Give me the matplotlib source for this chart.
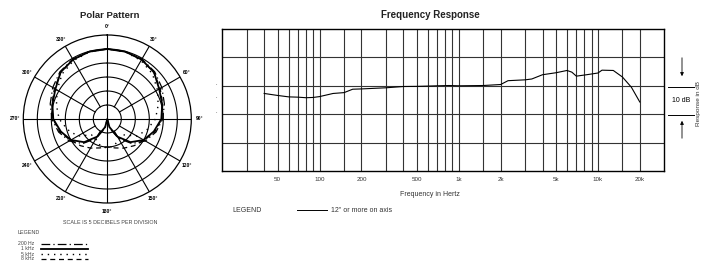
import matplotlib
matplotlib.use('Agg')
import matplotlib.pyplot as plt
import numpy as np
from matplotlib.lines import Line2D

plt.rcParams['font.family'] = ['Liberation Sans', 'DejaVu Sans']

# polar pattern, dB relative to on-axis, read at 0..180 deg (mirrored for the other side)
polar_angles = [0, 15, 30, 45, 60, 75, 90, 105, 120, 135, 150, 165, 180]
pol_200hz = [0, -0.1, -0.3, -1.1, -2.5, -3.9, -5.2, -7.0, -9.3, -12.6, -17.0, -21.5, -25.0]
pol_1khz = [0, -0.1, -0.5, -1.4, -3.6, -4.7, -5.7, -7.8, -10.0, -13.3, -17.7, -22.0, -25.0]
pol_5khz = [0, -0.2, -0.9, -2.2, -4.3, -6.2, -7.8, -10.3, -12.8, -17.0, -16.8, -15.2, -14.5]
pol_8khz = [0, -0.1, -0.5, -1.5, -3.2, -4.5, -5.6, -7.4, -9.8, -11.5, -13.0, -14.3, -15.0]
angle_labels = ['0°', '30°', '60°', '90°', '120°', '150°', '180°',
                '210°', '240°', '270°', '300°', '330°']

# frequency response
freq_hz = [40, 50, 60, 70, 80, 90, 100, 125, 150, 173, 200, 300, 400, 500, 600, 700,
           850, 1000, 1500, 2000, 2260, 3000, 3350, 4000, 5000, 6000, 6500, 7000,
           8300, 10000, 10700, 12900, 15000, 17400, 20000]
resp_db = [-2.7, -3.4, -3.9, -4.0, -4.2, -4.1, -3.8, -2.7, -2.4, -1.2, -1.1, -0.7,
           -0.25, -0.2, -0.1, 0.0, 0.1, 0.0, 0.1, 0.45, 1.8, 2.1, 2.4, 3.9, 4.6, 5.4,
           4.8, 3.4, 3.9, 4.5, 5.5, 5.4, 3.1, -0.5, -5.7]
grid_freqs = [30, 40, 50, 60, 70, 80, 90, 100, 150, 200, 300, 400, 500, 600, 700, 800,
              900, 1000, 1500, 2000, 3000, 4000, 5000, 6000, 7000, 8000, 9000, 10000,
              15000, 20000]
tick_freqs = [50, 100, 200, 500, 1000, 2000, 5000, 10000, 20000]
tick_labels = ['50', '100', '200', '500', '1k', '2k', '5k', '10k', '20k']

W, H = 703, 270


def fx(px):
    return px / W


def fy(py):
    return 1 - py / H


fig = plt.figure(figsize=(W / 100, H / 100), dpi=100, facecolor='white')

# ---------------- polar pattern ----------------
cx, cy, R = 107.3, 119, 84
pax = fig.add_axes([fx(cx - R), fy(cy + R), 2 * R / W, 2 * R / H], projection='polar')
pax.set_theta_zero_location('N')
pax.set_theta_direction(-1)
pax.set_rlim(-25, 5)
pax.grid(False)
pax.set_xticklabels([])
pax.set_yticklabels([])
pax.set_xticks([])
pax.set_yticks([])
pax.spines['polar'].set_linewidth(0.9)

tt = np.linspace(0, 2 * np.pi, 361)
for r in [-20, -15, -10, -5, 0]:
    pax.plot(tt, [r] * len(tt), color='black', lw=0.8)
for a in range(0, 360, 30):
    r0 = -25 if a % 90 == 0 else -20
    pax.plot([np.radians(a)] * 2, [r0, 5], color='black', lw=0.8)

for i, lab in enumerate(angle_labels):
    pax.text(np.radians(i * 30), 7.9, lab, ha='center', va='center', fontsize=3.6,
             fontweight='bold', clip_on=False)

ang_full = polar_angles + [360 - a for a in polar_angles[::-1][1:]]
styles = [(pol_200hz, (0, (7, 2.5, 1, 2.5)), 0.9),
          (pol_1khz, 'solid', 1.3),
          (pol_5khz, (0, (1, 3.5)), 1.0),
          (pol_8khz, (0, (4, 3)), 0.9)]
for vals, ls, lw in styles:
    full = vals + vals[::-1][1:]
    pax.plot(np.radians(ang_full), full, color='black', ls=ls, lw=lw)

fig.text(fx(110), fy(15), 'Polar Pattern', ha='center', va='center', fontsize=6.8,
         fontweight='bold', color='#222222')
fig.text(fx(110), fy(222.7), 'SCALE IS 5 DECIBELS PER DIVISION', ha='center',
         va='center', fontsize=3.9, color='#444444')
fig.text(fx(17), fy(232.7), 'LEGEND', ha='left', va='center', fontsize=3.9,
         color='#444444')

leg_rows = [('200 Hz', (0, (7, 2.5, 1, 2.5)), 0.9, 243.5),
            ('1 kHz', 'solid', 1.3, 249.0),
            ('5 kHz', (0, (1, 3.5)), 1.0, 254.2),
            ('8 kHz', (0, (4, 3)), 0.9, 259.0)]
for lab, ls, lw, yy in leg_rows:
    fig.text(fx(34), fy(yy), lab, ha='right', va='center', fontsize=3.7, color='#444444')
    fig.add_artist(Line2D([fx(40.5), fx(88)], [fy(yy), fy(yy)], color='black', ls=ls,
                          lw=lw, transform=fig.transFigure))

# ---------------- frequency response ----------------
x0, x1, y0, y1 = 222.3, 664.3, 29, 171
fax = fig.add_axes([fx(x0), fy(y1), (x1 - x0) / W, (y1 - y0) / H])
fax.set_xscale('log')
fax.set_xlim(20, 30000)
fax.set_ylim(-30, 20)
for f in grid_freqs:
    fax.axvline(f, color='#333333', lw=0.8)
for d in [-20, -10, 0, 10]:
    fax.axhline(d, color='#333333', lw=0.8)
fax.plot(freq_hz, resp_db, color='black', lw=0.8)
for s in fax.spines.values():
    s.set_linewidth(1.0)
fax.set_xticks(tick_freqs)
fax.set_xticklabels(tick_labels, fontsize=4.5, color='#333333')
fax.xaxis.set_minor_locator(matplotlib.ticker.NullLocator())
fax.tick_params(axis='x', length=0, pad=4)
fax.set_yticks([])

fig.text(fx(430), fy(15), 'Frequency Response', ha='center', va='center',
         fontsize=7, fontweight='bold', color='#222222')
fig.text(fx(430), fy(194), 'Frequency in Hertz', ha='center', va='center',
         fontsize=5, color='#333333')
fig.text(fx(232), fy(210), 'LEGEND', ha='left', va='center', fontsize=5, color='#333333')
fig.add_artist(Line2D([fx(297), fx(327)], [fy(210), fy(210)], color='black', lw=0.7,
                      transform=fig.transFigure))
fig.text(fx(331), fy(211), '12" or more on axis', ha='left', va='center', fontsize=5,
         color='#333333')

# small marks left of the chart
for yy in [86, 99, 114.3]:
    fig.text(fx(216.7), fy(yy), '.', ha='center', va='bottom', fontsize=4)

# 10 dB scale marker
fig.add_artist(Line2D([fx(668), fx(694)], [fy(86.7), fy(86.7)], color='black', lw=0.7,
                      transform=fig.transFigure))
fig.add_artist(Line2D([fx(668), fx(694)], [fy(115), fy(115)], color='black', lw=0.7,
                      transform=fig.transFigure))
fig.text(fx(681), fy(100), '10 dB', ha='center', va='center', fontsize=5)
fig.add_artist(matplotlib.patches.FancyArrowPatch((fx(682), fy(55)), (fx(682), fy(79)),
               transform=fig.transFigure, arrowstyle='-|>', mutation_scale=5,
               color='black', lw=0.6))
fig.add_artist(matplotlib.patches.FancyArrowPatch((fx(682), fy(141)), (fx(682), fy(118)),
               transform=fig.transFigure, arrowstyle='-|>', mutation_scale=5,
               color='black', lw=0.6))
fig.text(fx(698.5), fy(104), 'Response in dB', ha='center', va='center', fontsize=4.6,
         rotation=90, color='#333333')

fig.savefig('out.png', dpi=100, facecolor='white')
